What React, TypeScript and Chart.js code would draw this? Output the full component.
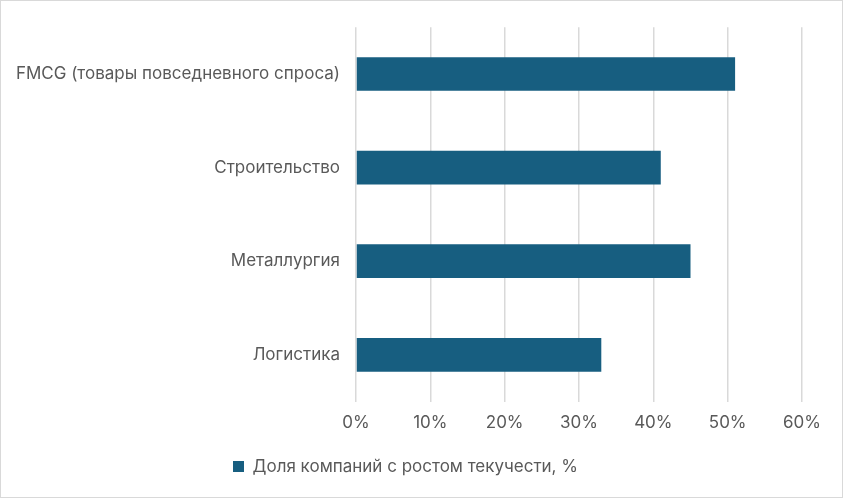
import React, { useRef, useEffect } from 'react';
import { Chart, registerables } from 'chart.js';

Chart.register(...registerables);

const categories = [
  'FMCG (товары повседневного спроса)',
  'Строительство',
  'Металлургия',
  'Логистика',
];
const shareValues = [51, 41, 45, 33];
const seriesLabel = 'Доля компаний с ростом текучести, %';

const BAR_COLOR = '#175E80';
const TEXT_COLOR = '#595959';
const GRID_COLOR = '#D9D9D9';
const FONT = 'Inter, "Noto Sans", sans-serif';

const App: React.FC = () => {
  const chartRef = useRef<HTMLCanvasElement>(null);

  useEffect(() => {
    document.body.style.margin = '0';
    if (!chartRef.current) return;
    const chart = new Chart(chartRef.current, {
      type: 'bar',
      data: {
        labels: categories,
        datasets: [{
          label: seriesLabel,
          data: shareValues,
          backgroundColor: BAR_COLOR,
          borderWidth: 0,
          barPercentage: 0.72,
          categoryPercentage: 0.5,
        }],
      },
      options: {
        indexAxis: 'y',
        animation: false,
        responsive: true,
        maintainAspectRatio: false,
        layout: { padding: { top: 15, right: 40, left: 8, bottom: 12 } },
        plugins: {
          tooltip: { enabled: false },
          legend: {
            position: 'bottom',
            labels: {
              boxWidth: 11,
              boxHeight: 11,
              color: TEXT_COLOR,
              padding: 14,
              font: { family: FONT, size: 17 },
            },
          },
        },
        scales: {
          x: {
            min: 0,
            max: 60,
            ticks: {
              stepSize: 10,
              color: TEXT_COLOR,
              padding: 11,
              font: { family: FONT, size: 17 },
              callback: (v) => `${v}%`,
            },
            grid: { color: GRID_COLOR, lineWidth: 1.5, drawTicks: false },
            border: { display: false },
          },
          y: {
            ticks: {
              color: TEXT_COLOR,
              padding: 16,
              font: { family: FONT, size: 17 },
            },
            grid: { display: false, drawTicks: false },
            border: { display: false },
            afterFit: (scale) => { scale.width = 347; },
          },
        },
      },
    });
    return () => chart.destroy();
  }, []);

  return (
    <div style={{ width: 843, height: 498, boxSizing: 'border-box', border: '1.5px solid #D9D9D9', background: '#fff' }}>
      <canvas ref={chartRef} />
    </div>
  );
};

export default App;
